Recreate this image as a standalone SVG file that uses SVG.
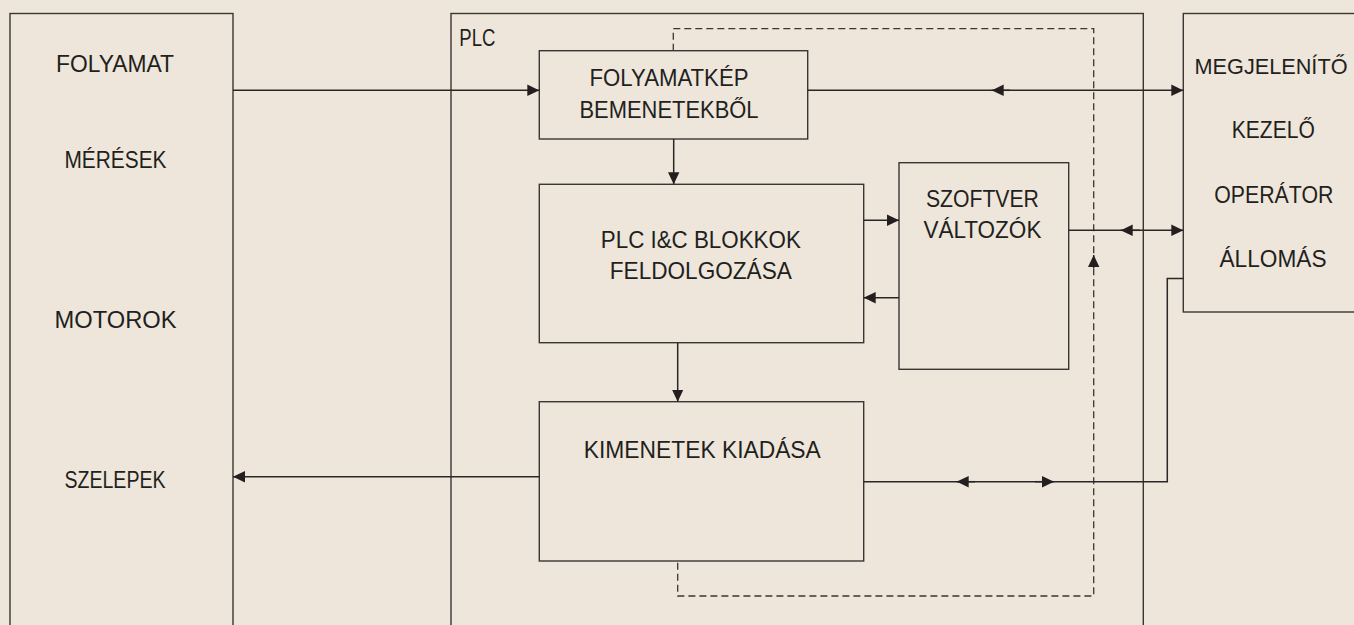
<svg xmlns="http://www.w3.org/2000/svg" width="1354" height="625" viewBox="0 0 1354 625">
<style>
.box{fill:#EEE6DA;stroke:#3A3634;stroke-width:1.4}
.conn{fill:none;stroke:#2A2526;stroke-width:1.5}
.dash{fill:none;stroke:#3A3634;stroke-width:1.3;stroke-dasharray:7 4}
text{font-family:"Liberation Sans",Arial,sans-serif;font-size:24px;fill:#231F20}
.c{text-anchor:middle}
</style>
<defs>
<marker id="ah" viewBox="0 0 12 12" refX="12" refY="6" markerWidth="12" markerHeight="12" markerUnits="userSpaceOnUse" orient="auto">
<path d="M0,0.3 L12,6 L0,11.7 z" fill="#231F20"/>
</marker>
</defs>
<rect width="1354" height="625" fill="#EEE6DA"/>

<g id="folyamat">
<rect class="box" x="10" y="13.5" width="223" height="625"/>
<text class="c" x="115" y="71.7" textLength="118" lengthAdjust="spacingAndGlyphs">FOLYAMAT</text>
<text class="c" x="115.5" y="167.7" textLength="102" lengthAdjust="spacingAndGlyphs">MÉRÉSEK</text>
<text class="c" x="115.5" y="327.7" textLength="122" lengthAdjust="spacingAndGlyphs">MOTOROK</text>
<text class="c" x="115" y="488.3" textLength="101" lengthAdjust="spacingAndGlyphs">SZELEPEK</text>
</g>

<g id="plc">
<rect class="box" x="451" y="13.5" width="692.3" height="625"/>
<text x="459.3" y="45.7" textLength="36" lengthAdjust="spacingAndGlyphs">PLC</text>
</g>

<g id="megjelenito">
<rect class="box" x="1183.3" y="13.5" width="190" height="298.5"/>
<text class="c" x="1271" y="74" style="font-size:22px" textLength="153" lengthAdjust="spacingAndGlyphs">MEGJELENÍTŐ</text>
<text class="c" x="1273.3" y="138.3" textLength="83" lengthAdjust="spacingAndGlyphs">KEZELŐ</text>
<text class="c" x="1273.8" y="202.7" textLength="119" lengthAdjust="spacingAndGlyphs">OPERÁTOR</text>
<text class="c" x="1273" y="266.7" textLength="107" lengthAdjust="spacingAndGlyphs">ÁLLOMÁS</text>
</g>

<g id="scan-cycle">
<path class="dash" d="M673.3,50.7 V28.7 H1093.7 V596 H677.7 V561"/>
</g>

<g id="folyamatkep">
<rect class="box" x="539.3" y="50.7" width="268.4" height="88.3"/>
<text class="c" x="669" y="86" textLength="159" lengthAdjust="spacingAndGlyphs">FOLYAMATKÉP</text>
<text class="c" x="669" y="117.7" textLength="179" lengthAdjust="spacingAndGlyphs">BEMENETEKBŐL</text>
</g>

<g id="feldolgozas">
<rect class="box" x="539.3" y="184.3" width="324.4" height="158.4"/>
<text class="c" x="700.8" y="248.3" textLength="200" lengthAdjust="spacingAndGlyphs">PLC I&amp;C BLOKKOK</text>
<text class="c" x="700.8" y="279.3" textLength="182" lengthAdjust="spacingAndGlyphs">FELDOLGOZÁSA</text>
</g>

<g id="szoftver">
<rect class="box" x="899" y="162.7" width="169.7" height="206.6"/>
<text class="c" x="982.4" y="206.7" textLength="113" lengthAdjust="spacingAndGlyphs">SZOFTVER</text>
<text class="c" x="982.4" y="238.3" textLength="118" lengthAdjust="spacingAndGlyphs">VÁLTOZÓK</text>
</g>

<g id="kimenetek">
<rect class="box" x="539.3" y="401.7" width="324.4" height="159.3"/>
<text class="c" x="702.3" y="458.3" textLength="237" lengthAdjust="spacingAndGlyphs">KIMENETEK KIADÁSA</text>
</g>

<g id="connectors">
<path class="conn" d="M233,90.3 H539.3" marker-end="url(#ah)"/>
<path class="conn" d="M807.7,90.3 H1183.3" marker-end="url(#ah)"/>
<path class="conn" d="M1010,90.3 H991.7" marker-end="url(#ah)"/>
<path class="conn" d="M673.7,139 V184.3" marker-end="url(#ah)"/>
<path class="conn" d="M863.7,220.3 H899" marker-end="url(#ah)"/>
<path class="conn" d="M899,297.7 H863.7" marker-end="url(#ah)"/>
<path class="conn" d="M1068.7,230.3 H1183.3" marker-end="url(#ah)"/>
<path class="conn" d="M1140,230.3 H1120.7" marker-end="url(#ah)"/>
<path class="conn" d="M677.7,342.7 V401.7" marker-end="url(#ah)"/>
<path class="conn" d="M539.3,476.7 H233" marker-end="url(#ah)"/>
<path class="conn" d="M1183.3,278.5 H1167.3 V481.7 H863.7"/>
<path class="conn" d="M975,481.7 H956.7" marker-end="url(#ah)"/>
<path class="conn" d="M1035,481.7 H1054" marker-end="url(#ah)"/>
<path class="conn" d="M1093.7,268 V255" marker-end="url(#ah)"/>
</g>
</svg>
